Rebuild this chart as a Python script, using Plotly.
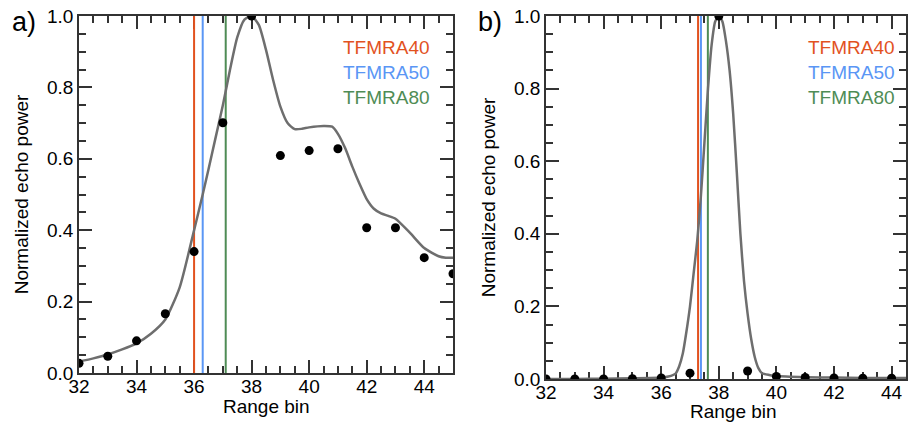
import plotly.graph_objects as go

# ---------------- data ----------------
bins = [32, 33, 34, 35, 36, 37, 38, 39, 40, 41, 42, 43, 44, 45]
power_a = [0.027, 0.047, 0.090, 0.166, 0.340, 0.701, 1.0, 0.609, 0.623, 0.628, 0.407, 0.407, 0.323, 0.278]

fit_x_a = [32.0, 32.5, 33.0, 33.5, 34.0, 34.5, 35.0, 35.5, 36.0, 36.3, 36.5, 36.75, 37.0, 37.25,
           37.5, 37.75, 38.0, 38.25, 38.5, 38.75, 39.0, 39.25, 39.5, 39.75, 40.0, 40.5, 40.8, 41.0, 41.25,
           41.5, 41.75, 42.0, 42.25, 42.5, 42.75, 43.0, 43.5, 44.0, 44.5, 44.75, 45.0]
fit_y_a = [0.032, 0.041, 0.052, 0.066, 0.083, 0.11, 0.15, 0.24, 0.40, 0.50, 0.57, 0.66, 0.75, 0.85,
           0.94, 0.99, 1.0, 0.975, 0.905, 0.82, 0.746, 0.70, 0.683, 0.684, 0.688, 0.692, 0.69, 0.67, 0.63,
           0.578, 0.53, 0.487, 0.46, 0.447, 0.44, 0.432, 0.393, 0.350, 0.327, 0.323, 0.323]

bins_b = [32, 33, 34, 35, 36, 37, 38, 39, 40, 41, 42, 43, 44]
power_b = [0.0, 0.0, 0.0, 0.001, 0.003, 0.016, 1.0, 0.022, 0.007, 0.004, 0.003, 0.002, 0.002]

fit_x_b = [32.0, 33.0, 34.0, 35.0, 36.0, 36.25, 36.5, 36.625, 36.75, 36.875, 37.0, 37.125, 37.25,
           37.375, 37.5, 37.625, 37.75, 37.875, 38.0, 38.125, 38.25, 38.375, 38.5, 38.625, 38.75,
           38.875, 39.0, 39.125, 39.25, 39.375, 39.5, 39.75, 40.0, 41.0, 42.0, 43.0, 44.0, 44.5]
fit_y_b = [0.0, 0.0, 0.001, 0.002, 0.004, 0.007, 0.015, 0.035, 0.07, 0.13, 0.20, 0.29, 0.38,
           0.50, 0.65, 0.80, 0.92, 0.985, 1.0, 0.985, 0.93, 0.85, 0.73, 0.57, 0.40,
           0.27, 0.18, 0.11, 0.06, 0.03, 0.016, 0.011, 0.008, 0.005, 0.004, 0.003, 0.003, 0.003]

labels = ["TFMRA40", "TFMRA50", "TFMRA80"]
retrack_a = [36.0, 36.3, 37.1]
retrack_b = [37.28, 37.38, 37.62]
colors = ["#E2521F", "#5A96F5", "#4F8C55"]

x_ticks = [32, 34, 36, 38, 40, 42, 44]
y_ticks = [0.0, 0.2, 0.4, 0.6, 0.8, 1.0]

W, H = 909, 423
FONT = "Liberation Sans, Arial, Helvetica, sans-serif"

fig = go.Figure()

# panel a
for xv, c in zip(retrack_a, colors):
    fig.add_trace(go.Scatter(x=[xv, xv], y=[0, 1], mode="lines", line=dict(color=c, width=2),
                             xaxis="x", yaxis="y", showlegend=False, hoverinfo="skip", cliponaxis=False))
fig.add_trace(go.Scatter(x=fit_x_a, y=fit_y_a, mode="lines",
                         line=dict(color="#6E6E6E", width=2.5, shape="spline", smoothing=0.6),
                         xaxis="x", yaxis="y", showlegend=False))
fig.add_trace(go.Scatter(x=bins, y=power_a, mode="markers", marker=dict(color="black", size=9),
                         xaxis="x", yaxis="y", showlegend=False, cliponaxis=True))

# panel b
for xv, c in zip(retrack_b, colors):
    fig.add_trace(go.Scatter(x=[xv, xv], y=[0, 1], mode="lines", line=dict(color=c, width=2),
                             xaxis="x2", yaxis="y2", showlegend=False, hoverinfo="skip", cliponaxis=False))
fig.add_trace(go.Scatter(x=fit_x_b, y=fit_y_b, mode="lines",
                         line=dict(color="#6E6E6E", width=2.5, shape="spline", smoothing=0.6),
                         xaxis="x2", yaxis="y2", showlegend=False))
fig.add_trace(go.Scatter(x=bins_b, y=power_b, mode="markers", marker=dict(color="black", size=9),
                         xaxis="x2", yaxis="y2", showlegend=False, cliponaxis=True))


def px_x(p):
    return p / W


def px_y(p):
    return 1 - p / H


axis_common = dict(showgrid=False, zeroline=False, showline=True, linecolor="#333333", linewidth=1.5,
                   mirror="ticks", ticks="inside", tickcolor="#333333", tickwidth=1.5, ticklen=13,
                   tickfont=dict(family=FONT, size=19, color="black"), automargin=False, layer="below traces")
minor_x = dict(dtick=0.5, ticks="inside", ticklen=7, tickcolor="#333333", tickwidth=1.5)
minor_y = dict(dtick=0.05, ticks="inside", ticklen=7, tickcolor="#333333", tickwidth=1.5)
ytitle = dict(text="Normalized echo power", font=dict(family=FONT, size=19), standoff=13)

fig.update_layout(
    width=W, height=H,
    margin=dict(l=0, r=0, t=0, b=0),
    paper_bgcolor="white", plot_bgcolor="white",
    font=dict(family=FONT, color="black"),
    xaxis=dict(domain=[px_x(79), px_x(453)], range=[32, 45], tickvals=x_ticks, anchor="y",
               minor=minor_x, ticklabelstandoff=-5, **axis_common),
    yaxis=dict(domain=[px_y(373), px_y(16)], range=[0, 1], tickvals=y_ticks, tickformat=".1f", anchor="x",
               minor=minor_y, title=ytitle, **axis_common),
    xaxis2=dict(domain=[px_x(546), px_x(906)], range=[32, 44.5], tickvals=x_ticks, anchor="y2",
                minor=minor_x, ticklabelstandoff=-5, **axis_common),
    yaxis2=dict(domain=[px_y(379), px_y(16)], range=[0, 1], tickvals=y_ticks, tickformat=".1f", anchor="x2",
                minor=minor_y, title=ytitle, **axis_common),
)

annotations = []
annotations.append(dict(text="a)", x=px_x(10), y=px_y(22), xref="paper", yref="paper", xanchor="left", yanchor="middle",
                        showarrow=False, font=dict(family=FONT, size=27, color="black")))
annotations.append(dict(text="b)", x=px_x(476), y=px_y(22), xref="paper", yref="paper", xanchor="left", yanchor="middle",
                        showarrow=False, font=dict(family=FONT, size=27, color="black")))
# x-axis titles
annotations.append(dict(text="Range bin", x=px_x(266), y=px_y(406), xref="paper", yref="paper", xanchor="center",
                        yanchor="middle", showarrow=False, font=dict(family=FONT, size=19, color="black")))
annotations.append(dict(text="Range bin", x=px_x(733), y=px_y(411), xref="paper", yref="paper", xanchor="center",
                        yanchor="middle", showarrow=False, font=dict(family=FONT, size=19, color="black")))
legend_y = [48, 72, 97]
for lab, c, ly in zip(labels, colors, legend_y):
    annotations.append(dict(text=lab, x=px_x(432), y=px_y(ly), xref="paper", yref="paper", xanchor="right", yanchor="middle",
                            showarrow=False, font=dict(family=FONT, size=19, color=c)))
    annotations.append(dict(text=lab, x=px_x(897), y=px_y(ly), xref="paper", yref="paper", xanchor="right", yanchor="middle",
                            showarrow=False, font=dict(family=FONT, size=19, color=c)))
fig.update_layout(annotations=annotations)

fig.write_html("out.html", config={"displayModeBar": False},
               post_script="document.body.style.margin='0';document.body.style.overflow='hidden';")
